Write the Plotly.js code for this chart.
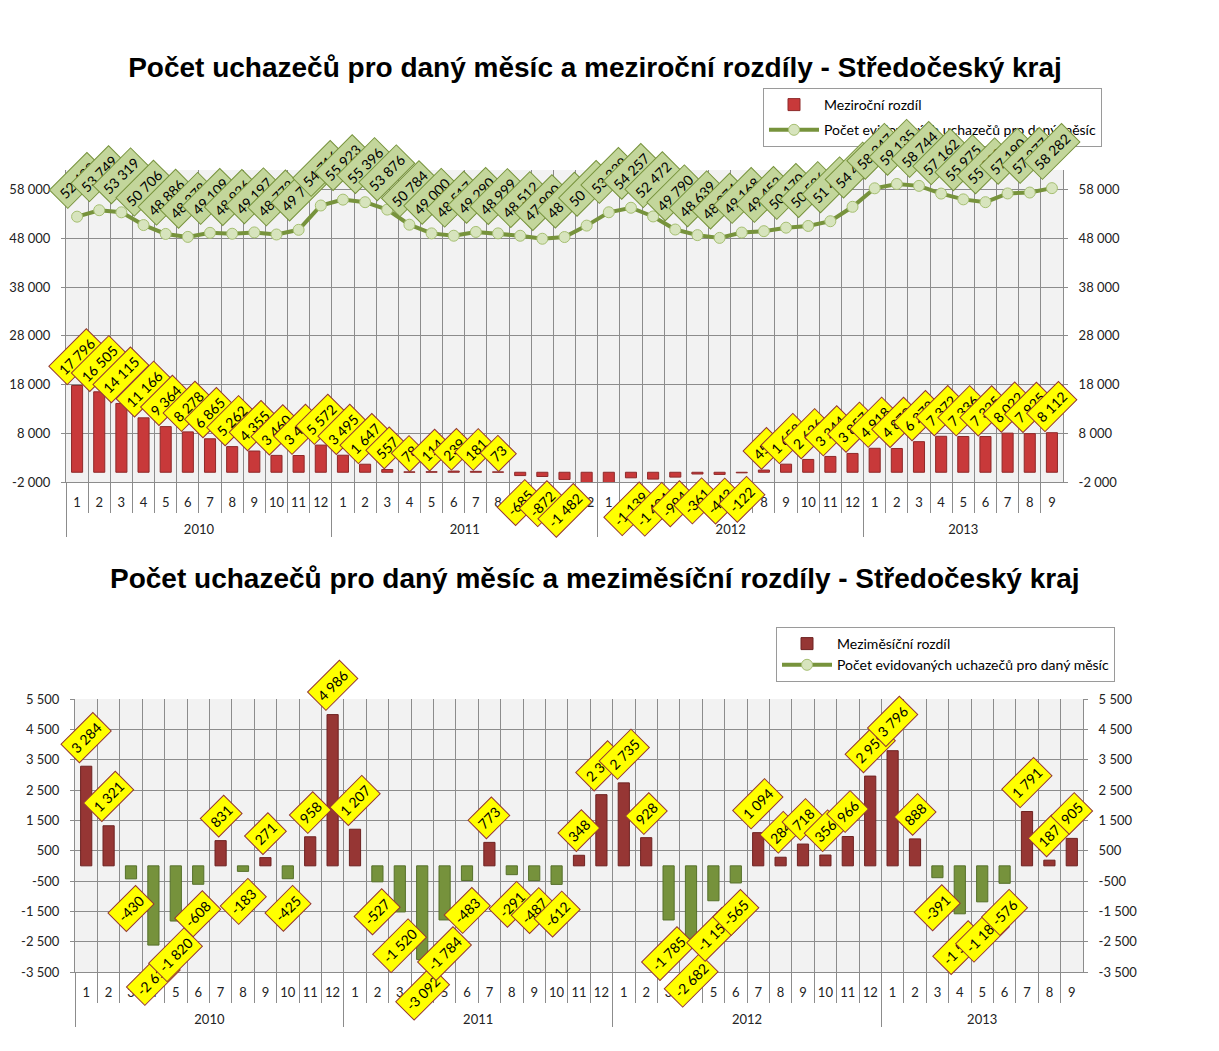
<!DOCTYPE html>
<html><head><meta charset="utf-8">
<script src="https://cdn.plot.ly/plotly-3.0.1.min.js"></script>
<style>body{margin:0;background:#fff}#chart{width:1219px;height:1051px}</style>
</head><body><div id="chart"></div>
<script>
// ---- categories ----
const periodYear = [
 '2010','2010','2010','2010','2010','2010','2010','2010','2010','2010','2010','2010',
 '2011','2011','2011','2011','2011','2011','2011','2011','2011','2011','2011','2011',
 '2012','2012','2012','2012','2012','2012','2012','2012','2012','2012','2012','2012',
 '2013','2013','2013','2013','2013','2013','2013','2013','2013'];
const periodMonth = [
 '1','2','3','4','5','6','7','8','9','10','11','12',
 '1','2','3','4','5','6','7','8','9','10','11','12',
 '1','2','3','4','5','6','7','8','9','10','11','12',
 '1','2','3','4','5','6','7','8','9'];
// ---- series ----
const applicants = [
 52428,53749,53319,50706,48886,48278,49109,48926,49197,48772,49730,54716,
 55923,55396,53876,50784,49000,48517,49290,48999,48512,47900,48248,50594,
 53329,54257,52472,49790,48639,48074,49168,49452,50170,50526,51492,54451,
 58247,59135,58744,57162,55975,55399,57190,57377,58282];
const yearOverYear = [
 17796,16505,14115,11166,9364,8278,6865,5262,4355,3460,3436,5572,
 3495,1647,557,78,114,239,181,73,-685,-872,-1482,-4122,
 -2594,-1139,-1404,-994,-361,-443,-122,453,1658,2626,3244,3857,
 4918,4878,6272,7372,7336,7325,8022,7925,8112];
const monthOverMonth = [
 3284,1321,-430,-2613,-1820,-608,831,-183,271,-425,958,4986,
 1207,-527,-1520,-3092,-1784,-483,773,-291,-487,-612,348,2346,
 2735,928,-1785,-2682,-1151,-565,1094,284,718,356,966,2959,
 3796,888,-391,-1582,-1187,-576,1791,187,905];
// ---- tick labels ----
const topTicks = [-2000,8000,18000,28000,38000,48000,58000];
const topTickText = ['-2 000','8 000','18 000','28 000','38 000','48 000','58 000'];
const bottomTicks = [-3500,-2500,-1500,-500,500,1500,2500,3500,4500,5500];
const bottomTickText = ['-3 500','-2 500','-1 500','-500','500','1 500','2 500','3 500','4 500','5 500'];
const topRange = [-2000, 62000];
const bottomRange = [-3500, 5500];

const titleTop = 'Počet uchazečů pro daný měsíc a meziroční rozdíly - Středočeský kraj';
const titleBottom = 'Počet uchazečů pro daný měsíc a meziměsíční rozdíly - Středočeský kraj';
const nameYoY = 'Meziroční rozdíl';
const nameMoM = 'Meziměsíční rozdíl';
const nameLine = 'Počet evidovaných uchazečů pro daný měsíc';

const FONT = 'Lato, "Noto Sans", sans-serif';
const TFONT = '"Liberation Sans", Arial, sans-serif';
const GRID = '#8c8c8c';
// year row is pushed one line lower (as in the original two-row category axis)
const xCats = [periodYear.map(y => '<br>' + y), periodMonth];
const xRange = [-0.5, periodMonth.length - 0.5];

function fmt(v){
  const s = Math.abs(v).toString().replace(/\B(?=(\d{3})+(?!\d))/g, ' ');
  return (v < 0 ? '-' : '') + s;
}

const traces = [
  {type:'bar', x:xCats, y:yearOverYear, xaxis:'x', yaxis:'y', name:nameYoY,
   legend:'legend', legendgroup:'a',
   marker:{color:'#c8393a', line:{color:'#8e2a2a', width:1}}},
  {type:'scatter', mode:'lines+markers', x:xCats, y:applicants, xaxis:'x', yaxis:'y3', name:nameLine,
   legend:'legend', legendgroup:'b',
   line:{color:'#77933c', width:4},
   marker:{size:11, color:'#d7e4bd', line:{color:'#a6bf72', width:1}}},
  {type:'bar', x:xCats, y:monthOverMonth, xaxis:'x2', yaxis:'y2', name:nameMoM,
   legend:'legend2', legendgroup:'c',
   marker:{color:monthOverMonth.map(v => v >= 0 ? '#963634' : '#76923c'),
           line:{color:monthOverMonth.map(v => v >= 0 ? '#6e2322' : '#56702a'), width:1}}},
  {type:'scatter', mode:'lines+markers', x:xCats, y:applicants, xaxis:'x2', yaxis:'y4', name:nameLine,
   legend:'legend2', legendgroup:'d',
   line:{color:'#77933c', width:4},
   marker:{size:11, color:'#d7e4bd', line:{color:'#a6bf72', width:1}}}
];

const annotations = [];
const barBox = {bgcolor:'#ffff00', bordercolor:'#943634', borderwidth:1, borderpad:4};
const lineBox = {bgcolor:'#c3d69b', bordercolor:'#77933c', borderwidth:1, borderpad:4};
const lblFont = {family:FONT, size:14, color:'#000'};
// top bar labels
yearOverYear.forEach((v,i) => {
  if (v < topRange[0]) return;
  annotations.push(Object.assign({x:i, y:v, xref:'x', yref:'y', text:fmt(v), textangle:-45,
    showarrow:false, yanchor: v >= 0 ? 'bottom' : 'top', yshift: v >= 0 ? 0 : -3,
    font:lblFont}, barBox));
});
// top line labels
applicants.forEach((v,i) => {
  annotations.push(Object.assign({x:i, y:v, xref:'x', yref:'y3', text:fmt(v), textangle:-45,
    showarrow:false, yanchor:'bottom', yshift:8, font:lblFont}, lineBox));
});
// bottom bar labels
monthOverMonth.forEach((v,i) => {
  annotations.push(Object.assign({x:i, y:v, xref:'x2', yref:'y2', text:fmt(v), textangle:-45,
    showarrow:false, yanchor: v >= 0 ? 'bottom' : 'top', yshift: v >= 0 ? 3 : -6,
    font:lblFont}, barBox));
});
annotations.push({xref:'paper', yref:'paper', x:595/1219, y:1-578/1051, text:titleBottom,
  showarrow:false, xanchor:'center', yanchor:'middle',
  font:{family:TFONT, size:28, color:'#000', weight:700}});

const xCommon = {type:'multicategory', tickson:'boundaries', showgrid:true, gridcolor:GRID,
  range:xRange, autorange:false, tickangle:0,
  ticks:'outside', ticklen:30, tickcolor:GRID, ticklabelstandoff:8,
  showline:true, linecolor:GRID,
  showdividers:true, dividercolor:GRID, dividerwidth:1, automargin:false,
  tickfont:{family:FONT, size:13, color:'#222'}};
const yCommon = {showgrid:true, gridcolor:GRID, ticks:'outside', ticklen:4, tickcolor:GRID,
  ticklabelstandoff:8,
  showline:true, linecolor:GRID, zeroline:false, automargin:false, autorange:false,
  tickfont:{family:FONT, size:13, color:'#222'}};

const layout = {
  width:1219, height:1051, margin:{l:0,r:0,t:0,b:0},
  paper_bgcolor:'#fff', plot_bgcolor:'#f2f2f2',
  bargap:0.5, showlegend:true,
  title:{text:titleTop, xref:'container', yref:'container', x:595/1219, xanchor:'center',
    y:1-67/1051, yanchor:'middle',
    font:{family:TFONT, size:28, color:'#000', weight:700}},
  xaxis:Object.assign({}, xCommon, {domain:[66/1219, 1063/1219], anchor:'y'}),
  yaxis:Object.assign({}, yCommon, {domain:[1-482/1051, 1-170/1051], anchor:'x',
    range:topRange, tickvals:topTicks, ticktext:topTickText}),
  yaxis3:Object.assign({}, yCommon, {overlaying:'y', side:'right', anchor:'x', showgrid:false,
    range:topRange, tickvals:topTicks, ticktext:topTickText}),
  xaxis2:Object.assign({}, xCommon, {domain:[75/1219, 1083/1219], anchor:'y2'}),
  yaxis2:Object.assign({}, yCommon, {domain:[1-972/1051, 1-699/1051], anchor:'x2',
    range:bottomRange, tickvals:bottomTicks, ticktext:bottomTickText}),
  yaxis4:Object.assign({}, yCommon, {overlaying:'y2', side:'right', anchor:'x2', showgrid:false,
    range:bottomRange, tickvals:bottomTicks, ticktext:bottomTickText}),
  legend:{x:763/1219, y:1-88/1051, xanchor:'left', yanchor:'top', bgcolor:'#fff',
    bordercolor:'#9a9a9a', borderwidth:1, tracegroupgap:4, traceorder:'grouped', itemwidth:50,
    font:{family:FONT, size:14, color:'#000'}},
  legend2:{x:776/1219, y:1-627/1051, xanchor:'left', yanchor:'top', bgcolor:'#fff',
    bordercolor:'#9a9a9a', borderwidth:1, tracegroupgap:0, traceorder:'grouped', itemwidth:50,
    font:{family:FONT, size:14, color:'#000'}},
  annotations:annotations
};

Plotly.newPlot('chart', traces, layout, {displayModeBar:false, staticPlot:true});
</script>
</body></html>
